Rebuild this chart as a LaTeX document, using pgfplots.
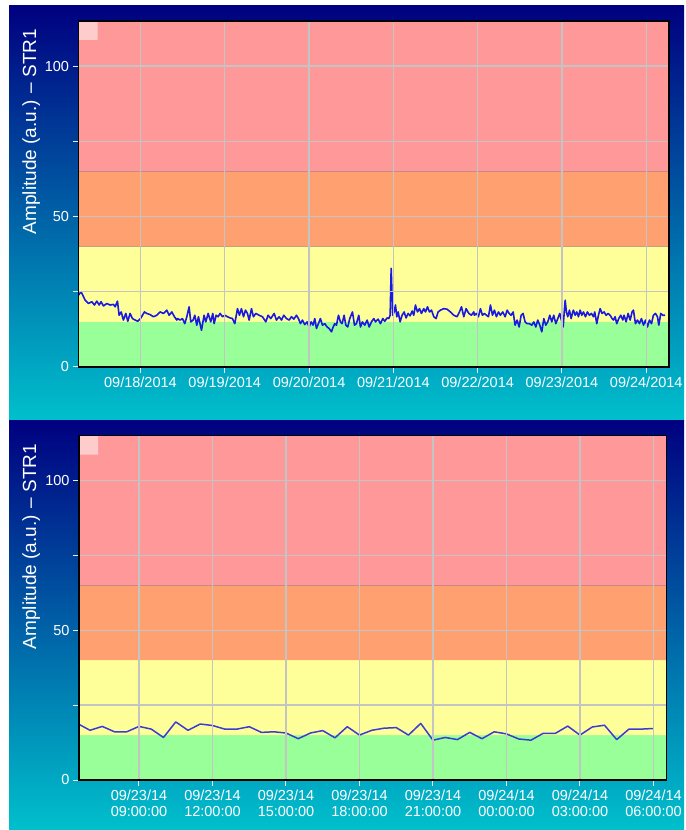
\documentclass[border=0pt]{standalone}
\usepackage{pgfplots}
\pgfplotsset{compat=1.18}
\usepackage{fontspec}
\setmainfont{Liberation Sans}
\definecolor{bgtop}{RGB}{0,0,128}
\definecolor{bgbot}{RGB}{0,192,204}
\definecolor{bandgreen}{RGB}{153,255,153}
\definecolor{bandyellow}{RGB}{255,255,153}
\definecolor{bandorange}{RGB}{255,160,112}
\definecolor{bandred}{RGB}{255,153,153}
\definecolor{cornerpink}{RGB}{255,204,204}
\definecolor{gridgray}{RGB}{196,196,196}
\definecolor{lineblue}{RGB}{25,25,225}
\definecolor{lineblueb}{RGB}{60,60,210}
\pgfplotsset{
  panel/.style={
    axis on top,
    scale only axis,
    anchor=south west,
    ymin=0, ymax=115,
    ytick={0,25,50,75,100},
    yticklabels={0,,50,,100},
    grid=major,
    major grid style={gridgray, line width=1.4pt},
    axis line style={black, line width=1.3pt},
    tick align=outside,
    major tick length=6pt,
    tick pos=left,
    tick style={white!85!gray, line width=1pt},
    tick label style={white, font=\fontsize{14.5}{16.7}\selectfont},
  }
}
\begin{document}
\begin{tikzpicture}
\path (0,0) rectangle (684pt,830pt);
\shade[top color=bgtop, bottom color=bgbot] (9pt,409.5pt) rectangle (684pt,824pt);
\shade[top color=bgtop, bottom color=bgbot] (9pt,0pt) rectangle (684pt,409.5pt);
% ---------- top panel ----------
\begin{axis}[panel, at={(78.5pt,463pt)}, width=590.5pt, height=346pt,
  xmin=-0.735, xmax=6.27,
  xtick={0,1,2,3,4,5,6},
  xticklabels={09/18/2014,09/19/2014,09/20/2014,09/21/2014,09/22/2014,09/23/2014,09/24/2014}]
\addplot[fill=bandgreen, draw=none] coordinates {(-0.735,0) (6.27,0) (6.27,15) (-0.735,15) (-0.735,0)};
\addplot[fill=bandyellow, draw=none] coordinates {(-0.735,15) (6.27,15) (6.27,40) (-0.735,40) (-0.735,15)};
\addplot[fill=bandorange, draw=none] coordinates {(-0.735,40) (6.27,40) (6.27,65) (-0.735,65) (-0.735,40)};
\addplot[fill=bandred, draw=none] coordinates {(-0.735,65) (6.27,65) (6.27,115) (-0.735,115) (-0.735,65)};
\addplot[fill=cornerpink, draw=none] coordinates {(-0.735,115) (-0.5096,115) (-0.5096,108.7) (-0.735,108.7) (-0.735,115)};
\addplot[lineblue, line width=1.6pt, line join=round] coordinates {
(-0.735,23.9) (-0.704,25.0) (-0.656,22.2) (-0.617,21.1) (-0.577,21.7) (-0.546,20.6) (-0.518,21.9) (-0.490,20.6) (-0.467,21.7) (-0.439,20.3) (-0.399,21.1) (-0.360,20.6) (-0.320,20.8) (-0.300,20.0) (-0.273,21.9) (-0.253,17.2) (-0.229,18.3) (-0.202,15.6) (-0.174,17.8) (-0.150,15.2) (-0.123,17.8) (-0.095,16.1) (-0.063,15.6) (-0.032,15.2) (0.000,16.1) (0.024,17.2) (0.047,18.3) (0.075,17.8) (0.115,17.4) (0.154,16.7) (0.194,17.2) (0.233,18.3) (0.273,17.8) (0.312,18.9) (0.340,17.2) (0.372,18.3) (0.403,16.7) (0.431,15.6)
(0.439,16.1) (0.471,15.6) (0.498,16.1) (0.526,14.4) (0.550,16.7) (0.577,20.0) (0.597,15.0) (0.625,15.6) (0.645,17.2) (0.668,13.9) (0.688,16.7) (0.724,12.2) (0.755,17.2) (0.775,15.0) (0.803,17.8) (0.834,15.0) (0.858,17.8) (0.874,14.4) (0.898,17.2) (0.921,16.7) (0.945,17.8) (0.973,16.7) (1.000,17.2) (1.032,16.7) (1.064,16.3) (1.091,16.1) (1.119,14.4) (1.151,19.4) (1.174,17.2) (1.198,19.4) (1.222,16.7) (1.246,18.9) (1.269,17.8) (1.289,15.6) (1.317,19.4) (1.340,16.7) (1.368,17.8) (1.408,17.2) (1.447,16.7) (1.487,15.0) (1.514,17.2) (1.546,16.1) (1.586,17.8)
(1.613,15.6) (1.645,16.7) (1.673,15.6) (1.700,17.2) (1.732,16.1) (1.764,15.6) (1.791,16.7) (1.819,15.9) (1.851,17.2) (1.874,16.1) (1.898,14.4) (1.922,15.6) (1.949,14.1) (1.977,15.0) (2.001,13.3) (2.025,15.0) (2.048,13.9) (2.068,16.1) (2.088,12.8) (2.111,14.4) (2.135,16.1) (2.159,13.9) (2.187,14.4) (2.214,13.3) (2.238,12.8) (2.266,11.7) (2.286,13.3) (2.305,14.4) (2.325,13.9) (2.349,17.2) (2.372,15.0) (2.392,14.4) (2.416,17.2) (2.436,13.9) (2.459,13.3) (2.483,16.1) (2.515,18.3) (2.539,13.9) (2.562,14.4) (2.590,17.2) (2.610,13.3) (2.633,15.0) (2.661,13.9) (2.689,15.6) (2.713,13.3) (2.740,15.0) (2.768,16.1)
(2.788,15.0) (2.819,15.9) (2.847,14.4) (2.875,16.1) (2.898,15.2) (2.926,16.3) (2.946,16.1) (2.962,17.2) (2.974,32.8) (2.993,17.2) (3.009,18.3) (3.025,20.6) (3.041,16.7) (3.057,18.3) (3.080,15.0) (3.104,17.2) (3.128,18.3) (3.151,16.3) (3.175,17.8) (3.199,17.0) (3.223,18.6) (3.242,17.2) (3.262,20.6) (3.286,18.3) (3.310,19.4) (3.333,17.8) (3.361,19.4) (3.381,18.3) (3.405,20.0) (3.428,18.3) (3.452,18.9) (3.480,16.7) (3.507,16.1) (3.531,18.3) (3.559,18.9) (3.598,19.4) (3.638,19.2) (3.677,18.3) (3.717,17.2) (3.756,16.7) (3.784,18.3) (3.808,20.0) (3.836,16.7) (3.863,19.4) (3.895,17.8) (3.926,17.2) (3.954,18.3)
(3.962,17.2) (3.986,17.8) (4.009,16.7) (4.033,19.4) (4.057,17.2) (4.081,17.8) (4.104,17.2) (4.128,16.7) (4.152,20.6) (4.176,17.2) (4.199,18.9) (4.223,16.7) (4.247,18.3) (4.270,17.2) (4.298,18.3) (4.326,16.7) (4.350,18.9) (4.373,17.8) (4.397,17.2) (4.421,18.3) (4.444,13.9) (4.468,15.6) (4.492,13.3) (4.516,17.2) (4.539,17.8) (4.563,15.0) (4.587,14.4) (4.614,14.4) (4.642,13.9) (4.666,15.0) (4.690,13.3) (4.713,15.6) (4.737,13.9) (4.761,11.7) (4.785,16.1) (4.808,13.9) (4.832,15.0) (4.856,17.2) (4.879,15.0) (4.903,17.2) (4.927,14.4) (4.951,16.1) (4.974,17.8) (4.998,15.0) (5.014,13.3) (5.038,22.2) (5.053,18.3) (5.069,16.7) (5.089,18.9) (5.109,16.1) (5.128,18.3)
(5.136,18.9) (5.156,17.2) (5.176,18.3) (5.196,16.7) (5.216,18.9) (5.235,17.2) (5.255,18.3) (5.279,16.7) (5.302,18.3) (5.326,17.2) (5.350,17.8) (5.374,16.7) (5.389,18.3) (5.413,14.4) (5.433,17.2) (5.453,19.4) (5.476,17.8) (5.500,18.3) (5.524,17.2) (5.548,17.8) (5.571,17.2) (5.595,16.1) (5.611,15.6) (5.631,16.7) (5.650,14.4) (5.674,16.1) (5.698,17.2) (5.722,15.6) (5.737,17.2) (5.761,15.0) (5.785,17.8) (5.809,15.6) (5.832,18.3) (5.848,18.9) (5.872,14.4) (5.896,15.6) (5.919,14.4) (5.943,16.1) (5.967,13.9) (5.991,15.6) (6.014,13.3) (6.038,15.6) (6.062,14.4) (6.085,17.2) (6.109,17.8) (6.133,16.7) (6.149,13.9) (6.172,17.8) (6.196,17.2) (6.224,17.2)
};
\end{axis}
\node[rotate=90, anchor=base, white, font=\fontsize{19}{22}\selectfont] at (36pt,698.5pt) {Amplitude (a.u.) – STR1};
% ---------- bottom panel ----------
\begin{axis}[panel, at={(79pt,50pt)}, width=587.7pt, height=344.3pt,
  xmin=6.551, xmax=30.54,
  xtick={9,12,15,18,21,24,27,30},
  xticklabel style={align=center},
  xticklabels={{09/23/14\\09:00:00},{09/23/14\\12:00:00},{09/23/14\\15:00:00},{09/23/14\\18:00:00},{09/23/14\\21:00:00},{09/24/14\\00:00:00},{09/24/14\\03:00:00},{09/24/14\\06:00:00}}]
\addplot[fill=bandgreen, draw=none] coordinates {(6.551,0) (30.54,0) (30.54,15) (6.551,15) (6.551,0)};
\addplot[fill=bandyellow, draw=none] coordinates {(6.551,15) (30.54,15) (30.54,40) (6.551,40) (6.551,15)};
\addplot[fill=bandorange, draw=none] coordinates {(6.551,40) (30.54,40) (30.54,65) (6.551,65) (6.551,40)};
\addplot[fill=bandred, draw=none] coordinates {(6.551,65) (30.54,65) (30.54,115) (6.551,115) (6.551,65)};
\addplot[fill=cornerpink, draw=none] coordinates {(6.551,115) (7.327,115) (7.327,108.65) (6.551,108.65) (6.551,115)};
\addplot[lineblueb, line width=1.5pt, line join=round] coordinates {
(6.551,18.6) (7.0,16.6) (7.5,17.9) (8.0,16.1) (8.5,16.1) (9.0,17.9) (9.5,17.0) (10.0,14.2) (10.5,19.4) (11.0,16.6) (11.5,18.7) (12.0,18.2) (12.5,17.0) (13.0,17.0) (13.5,17.8) (14.0,15.9) (14.5,16.1) (15.0,15.7) (15.5,13.8) (16.0,15.7) (16.5,16.5) (17.0,14.1) (17.5,17.8) (18.0,15.0) (18.5,16.6) (19.0,17.3) (19.5,17.5) (20.0,15.0) (20.5,18.9) (21.0,13.3) (21.5,14.2) (22.0,13.5) (22.5,15.9) (23.0,13.8) (23.5,16.1) (24.0,15.4) (24.5,13.7) (25.0,13.3) (25.5,15.6) (26.0,15.6) (26.5,18.0) (27.0,15.0) (27.5,17.7) (28.0,18.3) (28.5,13.5) (29.0,17.0) (29.5,17.0) (30.0,17.2)
};
\end{axis}
\node[rotate=90, anchor=base, white, font=\fontsize{19}{22}\selectfont] at (36pt,283.5pt) {Amplitude (a.u.) – STR1};
\end{tikzpicture}
\end{document}
